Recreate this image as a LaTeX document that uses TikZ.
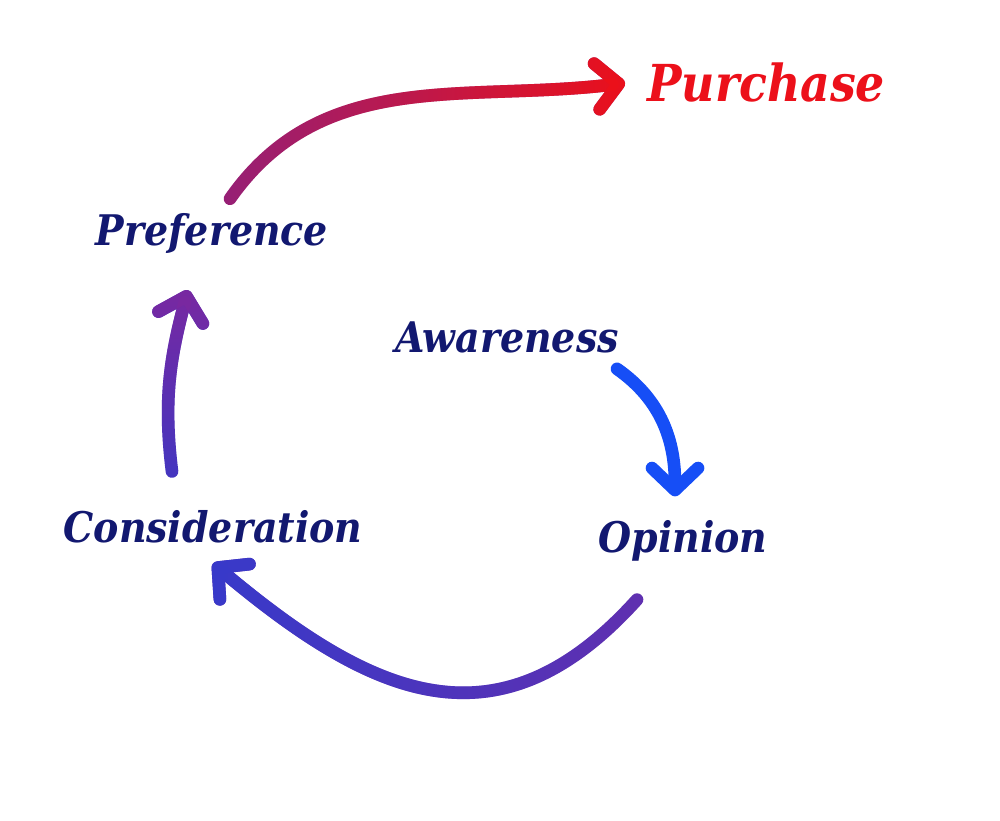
\documentclass[tikz,border=0pt]{standalone}
\usepackage{fontspec}
\setmainfont{DejaVu Serif Condensed}
\usepackage{tikz}
\usetikzlibrary{arrows.meta,fadings}
\definecolor{inkblue}{RGB}{18,24,112}
\definecolor{buyred}{RGB}{236,16,26}
\definecolor{arrowblue}{RGB}{22,78,246}
\definecolor{plumstart}{RGB}{150,32,118}
\definecolor{violetstart}{RGB}{96,48,176}
\definecolor{indigoend}{RGB}{56,58,202}
\definecolor{indigostart}{RGB}{68,54,192}
\definecolor{violetend}{RGB}{122,40,160}
\tikzfading[name=show right, left color=transparent!100, right color=transparent!0]
\tikzfading[name=show left, left color=transparent!0, right color=transparent!100]
\tikzfading[name=show top, bottom color=transparent!100, top color=transparent!0]

\begin{document}
\begin{tikzpicture}[
    >={Straight Barb[round,length=2.2mm,width=4.6mm]},
    stage/.style={
        text=inkblue,
        font=\bfseries\itshape\fontsize{12}{14}\selectfont,
        inner sep=1pt
    },
    flow/.style={
        ->,
        line width=3.6pt,
        line cap=round,
        line join=round
    }
]
\useasboundingbox (0,0) rectangle (10,8.2);

% Stages
\node[stage] (awareness) at (5.07,4.83) {Awareness};
\node[stage] (opinion) at (6.83,2.79) {Opinion};
\node[stage] (consideration) at (2.13,2.93) {Consideration};
\node[stage] (preference) at (2.12,5.87) {Preference};
\node[stage, text=buyred, font=\bfseries\itshape\fontsize{14.5}{16}\selectfont, anchor=west] (purchase) at (6.43,7.37) {Purchase};

% Arrows round the cycle
\draw[flow, arrowblue] ([xshift=11mm,yshift=-1.2mm]awareness.south) to[out=-35,in=90] ([xshift=-0.8mm,yshift=2mm]opinion.north);
\draw[flow, violetstart] ([xshift=-4.6mm,yshift=-3.4mm]opinion.south) to[out=-132,in=-40,looseness=1.25] ([xshift=0mm,yshift=-1.6mm]consideration.south);
\draw[flow, indigoend, path fading=show left] ([xshift=-4.6mm,yshift=-3.4mm]opinion.south) to[out=-132,in=-40,looseness=1.25] ([xshift=0mm,yshift=-1.6mm]consideration.south);
\draw[flow, indigostart] ([xshift=-4.1mm,yshift=3.5mm]consideration.north) to[out=97,in=-105] ([xshift=-2.4mm,yshift=-3.3mm]preference.south);
\draw[flow, violetend, path fading=show top] ([xshift=-4.1mm,yshift=3.5mm]consideration.north) to[out=97,in=-105] ([xshift=-2.4mm,yshift=-3.3mm]preference.south);

% Final step
\draw[flow, plumstart] ([xshift=1.8mm,yshift=1mm]preference.north) to[out=55,in=187] ([xshift=-1.8mm]purchase.west);
\draw[flow, buyred, path fading=show right] ([xshift=1.8mm,yshift=1mm]preference.north) to[out=55,in=187] ([xshift=-1.8mm]purchase.west);

\end{tikzpicture}
\end{document}
